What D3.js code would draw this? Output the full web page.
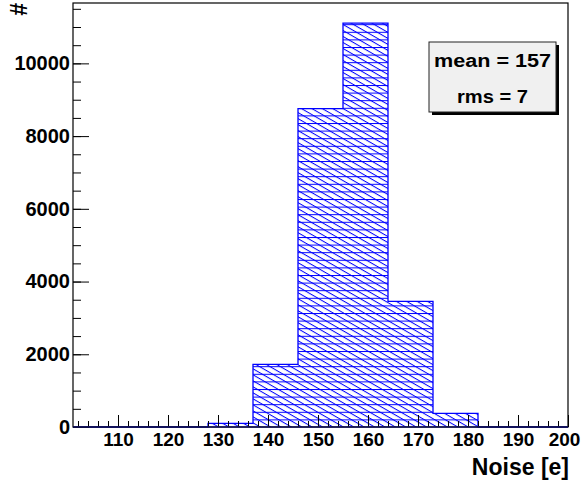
<!DOCTYPE html>
<html lang="en">
<head>
    <meta charset="UTF-8">
    <title>Noise histogram</title>
    <script src="https://cdn.jsdelivr.net/npm/d3@7"></script>
    <style>
        body { margin: 0; background: #fff; }
        text { font-family: "Liberation Sans", Arial, sans-serif; font-weight: bold; }
    </style>
</head>
<body>
    <svg class="canvas"></svg>
    <script>
        var svg_width = 583, svg_height = 488;

        // bin edges (width 9) and counts
        var binEdges = [101, 110, 119, 128, 137, 146, 155, 164, 173, 182, 191, 200];
        var counts = [0, 0, 0, 100, 1720, 8755, 11105, 3455, 375, 0, 0];
        var xTicks = [110, 120, 130, 140, 150, 160, 170, 180, 190, 200];
        var yTicks = [0, 2000, 4000, 6000, 8000, 10000];
        var statsLines = ['mean = 157', 'rms = 7'];
        var xTitle = 'Noise [e]', yTitle = '#';

        // frame edges (note: "top" is taken by window.top)
        var frameL = 73, frameR = 568, frameT = 3, frameB = 427;

        var xScale = d3.scaleLinear().domain([101, 200]).range([frameL, frameR]);
        var yScale = d3.scaleLinear().domain([0, d3.max(counts) * 1.05]).range([frameB, frameT]);

        var svg = d3.select('svg').attr('width', svg_width).attr('height', svg_height);

        var defs = svg.append('defs');
        // horizontal hatch lines
        var pH = defs.append('pattern').attr('id', 'hatchH')
            .attr('patternUnits', 'userSpaceOnUse')
            .attr('width', 10).attr('height', 7.6)
            .attr('y', frameB);
        pH.append('line').attr('x1', 0).attr('x2', 10).attr('y1', 0.5).attr('y2', 0.5)
            .attr('stroke', '#0000ff').attr('stroke-width', 1);
        // diagonal hatch lines, going down to the right
        var pD = defs.append('pattern').attr('id', 'hatchD')
            .attr('patternUnits', 'userSpaceOnUse')
            .attr('width', 10).attr('height', 5.2)
            .attr('patternTransform', 'rotate(30)');
        pD.append('line').attr('x1', 0).attr('x2', 10).attr('y1', 0.5).attr('y2', 0.5)
            .attr('stroke', '#0000ff').attr('stroke-width', 1);

        var bins = counts.map(function(c, i) {
            return { x0: binEdges[i], x1: binEdges[i + 1], n: c };
        });
        var filled = bins.filter(function(d) { return d.n > 0; });

        ['hatchH', 'hatchD'].forEach(function(id) {
            svg.selectAll('rect.' + id)
                .data(filled)
                .enter()
                .append('rect')
                .attr('class', id)
                .attr('x', function(d) { return xScale(d.x0); })
                .attr('y', function(d) { return yScale(d.n); })
                .attr('width', function(d) { return xScale(d.x1) - xScale(d.x0); })
                .attr('height', function(d) { return yScale(0) - yScale(d.n); })
                .attr('fill', 'url(#' + id + ')');
        });

        // histogram outline as steps
        var pts = [[binEdges[0], 0]];
        bins.forEach(function(d) { pts.push([d.x0, d.n]); pts.push([d.x1, d.n]); });
        pts.push([binEdges[binEdges.length - 1], 0]);
        var line = d3.line()
            .x(function(d) { return xScale(d[0]); })
            .y(function(d) { return yScale(d[1]); });
        svg.append('path').datum(pts)
            .attr('d', line)
            .attr('fill', 'none')
            .attr('stroke', '#0000ff')
            .attr('stroke-width', 1.3);

        // axes
        var xMinor = d3.range(102, 201, 2);
        var yMinor = d3.range(0, 11600, 500);

        var gx = svg.append('g').attr('transform', 'translate(0,' + frameB + ')');
        gx.call(d3.axisBottom(xScale).tickValues(xMinor).tickSize(-6).tickFormat(''));
        var gxMajor = gx.append('g').call(d3.axisBottom(xScale).tickValues(xTicks).tickSize(-12).tickPadding(6).tickFormat(d3.format('d')));

        var gy = svg.append('g').attr('transform', 'translate(' + frameL + ',0)');
        gy.call(d3.axisLeft(yScale).tickValues(yMinor).tickSize(-8).tickFormat(''));
        var gyMajor = gy.append('g').call(d3.axisLeft(yScale).tickValues(yTicks).tickSize(-16).tickPadding(3).tickFormat(d3.format('d')));

        svg.selectAll('.domain').remove();
        svg.selectAll('.tick line').attr('stroke', '#000').attr('stroke-width', 1);
        svg.selectAll('.tick text').attr('fill', '#000')
            .attr('font-family', '"Liberation Sans", Arial, sans-serif').attr('font-weight', 'bold');
        gyMajor.selectAll('.tick text').attr('font-size', 20);
        gxMajor.selectAll('.tick text').attr('font-size', 19)
            .attr('x', function(d) { return d === 200 ? -4 : 0; });

        // frame
        svg.append('rect')
            .attr('x', frameL).attr('y', frameT)
            .attr('width', frameR - frameL).attr('height', frameB - frameT)
            .attr('fill', 'none').attr('stroke', '#000').attr('stroke-width', 1.2);
        svg.append('line')
            .attr('x1', frameL).attr('x2', frameR).attr('y1', frameB).attr('y2', frameB)
            .attr('stroke', '#10105a').attr('stroke-width', 1.5);

        // axis titles
        svg.append('text')
            .attr('x', frameR + 1).attr('y', 475)
            .attr('text-anchor', 'end')
            .attr('font-size', 23)
            .text(xTitle);
        svg.append('text')
            .attr('transform', 'translate(27,3) rotate(-90)')
            .attr('text-anchor', 'end')
            .attr('font-size', 23)
            .text(yTitle);

        // stats box
        var bx = 429, by = 42, bw = 127, bh = 70;
        svg.append('rect').attr('x', bx + 3).attr('y', by + 3).attr('width', bw).attr('height', bh)
            .attr('fill', '#000');
        svg.append('rect').attr('x', bx).attr('y', by).attr('width', bw).attr('height', bh)
            .attr('fill', '#f0f0f0').attr('stroke', '#222').attr('stroke-width', 1);
        var statWidths = [117, 71], statBase = [66.5, 103];
        svg.selectAll('text.stat')
            .data(statsLines)
            .enter().append('text')
            .attr('class', 'stat')
            .attr('x', bx + bw / 2)
            .attr('y', function(d, i) { return statBase[i]; })
            .attr('text-anchor', 'middle')
            .attr('font-size', 17.5)
            .attr('textLength', function(d, i) { return statWidths[i]; })
            .attr('lengthAdjust', 'spacingAndGlyphs')
            .text(function(d) { return d; });
    </script>
</body>
</html>
